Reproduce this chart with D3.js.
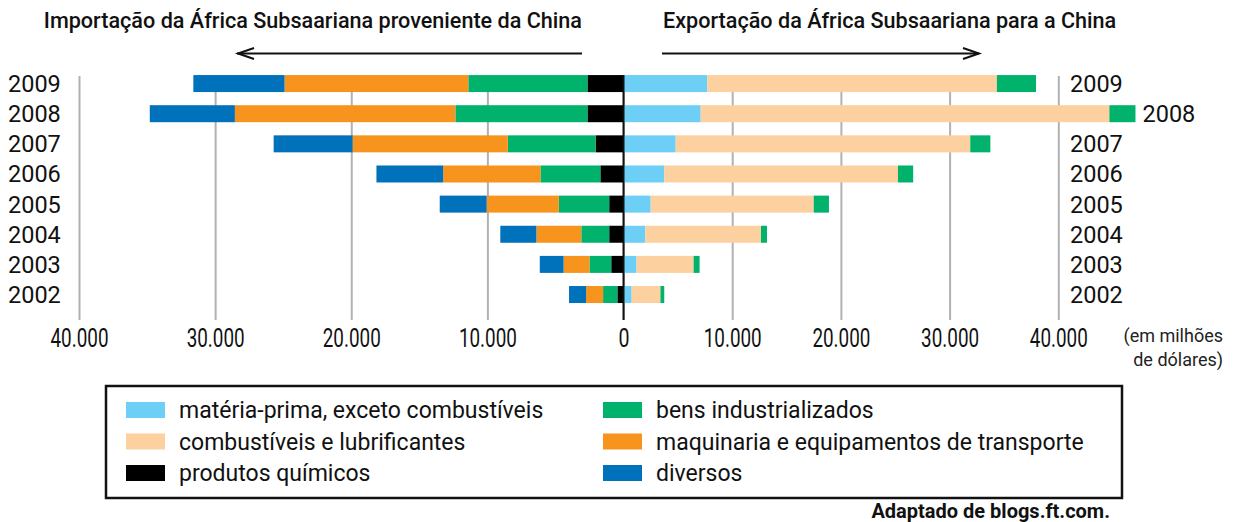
<!DOCTYPE html>
<html>
<head>
<meta charset="utf-8">
<script src="https://cdn.jsdelivr.net/npm/d3@7"></script>
<style>
  body { margin: 0; background: #fff; }
  svg { display: block; font-family: Roboto, 'DejaVu Sans', sans-serif; }
</style>
</head>
<body>
<svg id="chart"></svg>
<script>
const width = 1239;
const height = 522;

// data (millions of dollars)
const years = [2009, 2008, 2007, 2006, 2005, 2004, 2003, 2002];
const importQuimicos = [2650, 2650, 2050, 1700, 1050, 1050, 900, 450];
const importIndustrial = [8750, 9700, 6450, 4400, 3700, 2050, 1600, 1050];
const importMaquinaria = [13500, 16200, 11400, 7150, 5300, 3300, 1900, 1250];
const importDiversos = [6700, 6250, 5800, 4900, 3450, 2650, 1750, 1250];
const exportMateria = [7700, 7100, 4800, 3750, 2500, 2000, 1200, 750];
const exportCombustiveis = [26650, 37600, 27100, 21500, 15000, 10650, 5250, 2650];
const exportIndustrial = [3600, 2400, 1850, 1400, 1400, 550, 550, 350];

const tickValues = [0, 10000, 20000, 30000, 40000];
const legendLabels = [
    'matéria-prima, exceto combustíveis', 'combustíveis e lubrificantes', 'produtos químicos',
    'bens industrializados', 'maquinaria e equipamentos de transporte', 'diversos'
];
const legendColors = ['#6dcff6', '#fdd09f', '#000000', '#00b26b', '#f7941d', '#0071bb'];

const colors = {
    materia: '#6dcff6', combustiveis: '#fdd09f', quimicos: '#000000',
    industrial: '#00b26b', maquinaria: '#f7941d', diversos: '#0071bb'
};

const rows = years.map((y, i) => ({
    year: y,
    quimicos: importQuimicos[i],
    industrialImp: importIndustrial[i],
    maquinaria: importMaquinaria[i],
    diversos: importDiversos[i],
    materia: exportMateria[i],
    combustiveis: exportCombustiveis[i],
    industrialExp: exportIndustrial[i]
}));

const svg = d3.select('#chart').attr('width', width).attr('height', height);

const zeroX = 623.5;
const gridTop = 76;
const axisY = 320;

const xL = d3.scaleLinear().domain([0, 40000]).range([zeroX, 79]);
const xR = d3.scaleLinear().domain([0, 40000]).range([zeroX, 1058.3]);
const y = d3.scaleBand().domain(years).range([68.5, 309.6]).paddingInner(0.436).paddingOuter(0.218);

const ptBR = d3.formatLocale({ decimal: ',', thousands: '.', grouping: [3], currency: ['', ''] });
const fmt = ptBR.format(',');

// gridlines + tick labels
function styleAxis(g) {
    g.select('.domain').remove();
    g.attr('font-size', 26).attr('font-family', 'Roboto, sans-serif');
    g.selectAll('.tick line').attr('stroke', '#b1b1b4').attr('stroke-width', 2);
    g.selectAll('.tick text')
        .attr('fill', '#111')
        .attr('textLength', d => d === 0 ? 11 : 58)
        .attr('lengthAdjust', 'spacingAndGlyphs');
}

svg.append('g')
    .attr('transform', `translate(0,${axisY})`)
    .call(d3.axisBottom(xL).tickValues(tickValues).tickFormat(fmt)
        .tickSizeInner(-(axisY - gridTop)).tickSizeOuter(0).tickPadding(9))
    .call(styleAxis);

svg.append('g')
    .attr('transform', `translate(0,${axisY})`)
    .call(d3.axisBottom(xR).tickValues(tickValues.slice(1)).tickFormat(fmt)
        .tickSizeInner(-(axisY - gridTop)).tickSizeOuter(0).tickPadding(9))
    .call(styleAxis);

// stacked bars
const leftKeys = ['quimicos', 'industrialImp', 'maquinaria', 'diversos'];
const leftColors = [colors.quimicos, colors.industrial, colors.maquinaria, colors.diversos];
const rightKeys = ['materia', 'combustiveis', 'industrialExp'];
const rightColors = [colors.materia, colors.combustiveis, colors.industrial];

const leftStack = d3.stack().keys(leftKeys)(rows);
const rightStack = d3.stack().keys(rightKeys)(rows);

svg.append('g').selectAll('g')
    .data(leftStack)
    .join('g')
    .attr('fill', (d, i) => leftColors[i])
    .selectAll('rect')
    .data(d => d)
    .join('rect')
    .attr('x', d => xL(d[1]))
    .attr('width', d => xL(d[0]) - xL(d[1]))
    .attr('y', d => y(d.data.year))
    .attr('height', y.bandwidth());

svg.append('g').selectAll('g')
    .data(rightStack)
    .join('g')
    .attr('fill', (d, i) => rightColors[i])
    .selectAll('rect')
    .data(d => d)
    .join('rect')
    .attr('x', d => xR(d[0]))
    .attr('width', d => xR(d[1]) - xR(d[0]))
    .attr('y', d => y(d.data.year))
    .attr('height', y.bandwidth());

// zero line
svg.append('line')
    .attr('x1', zeroX).attr('x2', zeroX)
    .attr('y1', gridTop - 1).attr('y2', axisY)
    .attr('stroke', '#111').attr('stroke-width', 2);

// year labels
svg.append('g').selectAll('text')
    .data(years)
    .join('text')
    .attr('x', 8)
    .attr('y', d => y(d) + y.bandwidth() / 2 + 8.5)
    .attr('font-size', 23.5)
    .attr('fill', '#111')
    .text(d => d);

svg.append('g').selectAll('text')
    .data(rows)
    .join('text')
    .attr('x', d => {
        const end = xR(d.materia + d.combustiveis + d.industrialExp);
        return end > xR(40000) ? end + 7 : 1070;
    })
    .attr('y', d => y(d.year) + y.bandwidth() / 2 + 8.5)
    .attr('font-size', 23.5)
    .attr('fill', '#111')
    .text(d => d.year);

// unit note
const unit = svg.append('text')
    .attr('text-anchor', 'end')
    .attr('font-size', 18)
    .attr('fill', '#222');
unit.append('tspan').attr('x', 1223).attr('y', 342).text('(em milhões');
unit.append('tspan').attr('x', 1223).attr('y', 366).text('de dólares)');

// titles + arrows
svg.append('text')
    .attr('x', 582).attr('y', 28)
    .attr('text-anchor', 'end')
    .attr('font-size', 21.6).attr('font-weight', 500)
    .attr('fill', '#111')
    .text('Importação da África Subsaariana proveniente da China');

svg.append('text')
    .attr('x', 663).attr('y', 28)
    .attr('font-size', 21.6).attr('font-weight', 500)
    .attr('fill', '#111')
    .text('Exportação da África Subsaariana para a China');

const arrow = svg.append('g').attr('stroke', '#111').attr('stroke-width', 2).attr('fill', 'none');
arrow.append('line').attr('x1', 582).attr('x2', 237).attr('y1', 53.5).attr('y2', 53.5);
arrow.append('path').attr('d', 'M254,48 L238,53.5 L254,59');
arrow.append('line').attr('x1', 662).attr('x2', 979).attr('y1', 53.5).attr('y2', 53.5);
arrow.append('path').attr('d', 'M963,48 L979,53.5 L963,59');

// legend
const legend = svg.append('g');
legend.append('rect')
    .attr('x', 106).attr('y', 386)
    .attr('width', 1016).attr('height', 112)
    .attr('fill', 'none').attr('stroke', '#111').attr('stroke-width', 2.5);

const items = legend.selectAll('g.item')
    .data(legendLabels)
    .join('g')
    .attr('class', 'item')
    .attr('transform', (d, i) => `translate(${i < 3 ? 126 : 603},${402 + (i % 3) * 31.5})`);

items.append('rect')
    .attr('width', 39).attr('height', 16)
    .attr('fill', (d, i) => legendColors[i]);

items.append('text')
    .attr('x', 53).attr('y', 16)
    .attr('font-size', 23)
    .attr('fill', '#111')
    .text(d => d);

svg.append('text')
    .attr('x', 1110).attr('y', 518)
    .attr('text-anchor', 'end')
    .attr('font-size', 20).attr('font-weight', 700)
    .attr('fill', '#111')
    .text('Adaptado de blogs.ft.com.');
</script>
</body>
</html>
